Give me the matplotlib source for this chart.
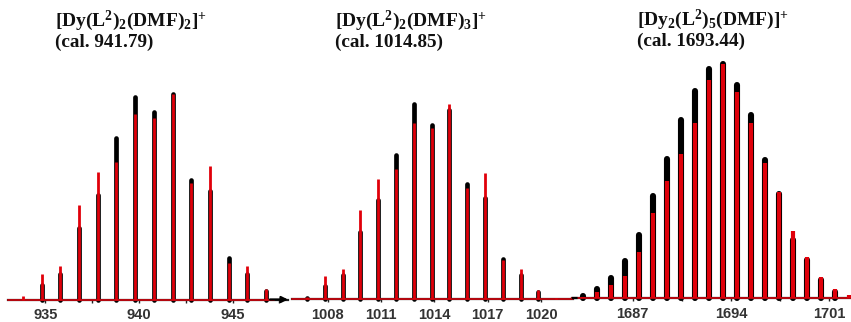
import numpy as np
import matplotlib
matplotlib.use("Agg")
import matplotlib.pyplot as plt
from matplotlib.ticker import FixedLocator

plt.rcParams['mathtext.fontset'] = 'custom'
plt.rcParams['mathtext.rm'] = 'Liberation Serif:bold'
plt.rcParams['mathtext.bf'] = 'Liberation Serif:bold'
plt.rcParams['mathtext.it'] = 'Liberation Serif:bold'

# isotope patterns: experimental (black) vs simulated (red), normalised
p1_mz = [933.79, 934.79, 935.79, 936.79, 937.79, 938.79, 939.79,
         940.79, 941.79, 942.79, 943.79, 944.79, 945.79, 946.79]
p1_exp = [0.0, 0.073, 0.126, 0.349, 0.51, 0.786, 0.988,
          0.915, 1.0, 0.583, 0.53, 0.203, 0.122, 0.04]
p1_sim = [0.016, 0.122, 0.162, 0.462, 0.62, 0.669, 0.903,
          0.883, 1.0, 0.567, 0.651, 0.178, 0.162, 0.049]

p2_mz = [1006.85, 1007.85, 1008.85, 1009.85, 1010.85, 1011.85, 1012.85, 1013.85,
         1014.85, 1015.85, 1016.85, 1017.85, 1018.85, 1019.85, 1020.85]
p2_exp = [0.005, 0.068, 0.125, 0.347, 0.51, 0.74, 1.0, 0.894,
          0.97, 0.591, 0.518, 0.207, 0.125, 0.039, 0.0]
p2_sim = [0.01, 0.12, 0.155, 0.458, 0.615, 0.667, 0.903, 0.877,
          1.0, 0.569, 0.646, 0.2, 0.155, 0.048, 0.008]

p3_mz = [1683.44, 1684.44, 1685.44, 1686.44, 1687.44, 1688.44, 1689.44,
         1690.44, 1691.44, 1692.44, 1693.44, 1694.44, 1695.44, 1696.44,
         1697.44, 1698.44, 1699.44, 1700.44, 1701.44, 1702.44]
p3_exp = [0.01, 0.04, 0.088, 0.161, 0.27, 0.437, 0.595, 0.762, 0.886, 0.979,
          1.0, 0.912, 0.783, 0.591, 0.445, 0.249, 0.164, 0.078, 0.028, 0.0]
p3_sim = [0.005, 0.028, 0.057, 0.095, 0.199, 0.363, 0.50, 0.615, 0.748, 0.933,
          1.0, 0.883, 0.748, 0.577, 0.456, 0.289, 0.178, 0.092, 0.04, 0.014]

p1_ticks = [935, 940, 945]
p1_minor = [937.5, 942.5, 947.5]
p2_ticks = [1008, 1011, 1014, 1017, 1020]
p2_minor = []
p3_ticks = [1687, 1694, 1701]
p3_minor = [1690.5, 1697.5]

titles = [r'$\mathrm{[Dy(L^{2})_{2}(DMF)_{2}]^{+}}$',
          r'$\mathrm{[Dy(L^{2})_{2}(DMF)_{3}]^{+}}$',
          r'$\mathrm{[Dy_{2}(L^{2})_{5}(DMF)]^{+}}$']
cal_labels = ['(cal. 941.79)', '(cal. 1014.85)', '(cal. 1693.44)']

W, H = 851, 322
RED = '#e0000a'

fig = plt.figure(figsize=(W / 100, H / 100), dpi=100)

# panel geometry in pixels: left, right, baseline, top of tallest peak
panels = [
    dict(mz=p1_mz, exp=p1_exp, sim=p1_sim, ticks=p1_ticks, minor=p1_minor,
         px=(8, 288, 299.5, 94.3), xlim=(933.0, 947.96), lw=(3.4, 2.0),
         title_xy=(55, 26), red_end=947.2, arrow=True, dashes=False),
    dict(mz=p2_mz, exp=p2_exp, sim=p2_sim, ticks=p2_ticks, minor=p2_minor,
         px=(292, 573, 299.3, 104.3), xlim=(1006.0, 1021.8), lw=(3.4, 2.0),
         title_xy=(335, 26), red_end=None, arrow=False, dashes=False),
    dict(mz=p3_mz, exp=p3_exp, sim=p3_sim, ticks=p3_ticks, minor=p3_minor,
         px=(572, 851, 298.3, 64.3), xlim=(1682.68, 1702.55), lw=(4.4, 3.0),
         title_xy=(637, 25), red_end=None, arrow=False, dashes=True),
]

for i, p in enumerate(panels):
    x0, x1, yb, yt = p['px']
    ax = fig.add_axes([x0 / W, (H - yb) / H, (x1 - x0) / W, (yb - yt) / H])
    ax.set_xlim(*p['xlim'])
    ax.set_ylim(0, 1)
    ax.patch.set_alpha(0)

    lw_exp, lw_sim = p['lw']
    ax.vlines(p['mz'], 0, p['exp'], colors='black', lw=lw_exp,
              capstyle='round', clip_on=False, zorder=2)
    ax.vlines(p['mz'], 0, p['sim'], colors=RED, lw=lw_sim,
              capstyle='butt', clip_on=False, zorder=3)

    # baseline
    red_end = p['red_end'] if p['red_end'] else p['xlim'][1]
    ax.plot([p['xlim'][0], red_end], [0, 0], color=RED, lw=1.1,
            clip_on=False, zorder=4)
    if p['arrow']:
        ax.annotate('', xy=(p['xlim'][1], 0), xytext=(red_end - 0.2, 0),
                    arrowprops=dict(arrowstyle='-|>', color='black', lw=1.6,
                                    mutation_scale=9, shrinkA=0, shrinkB=0),
                    annotation_clip=False, zorder=5)
    if p['dashes']:
        ax.plot([0.0, 0.035], [0, 0], transform=ax.transAxes, color='black',
                lw=1.6, ls=(0, (2.5, 2.5)), clip_on=False, zorder=5)

    for s in ['top', 'left', 'right']:
        ax.spines[s].set_visible(False)
    ax.spines['bottom'].set_linewidth(1.6)
    ax.spines['bottom'].set_color('#202020')

    ax.set_yticks([])
    ax.xaxis.set_major_locator(FixedLocator(p['ticks']))
    ax.xaxis.set_minor_locator(FixedLocator(p['minor']))
    ax.set_xticklabels([str(t) for t in p['ticks']],
                       fontfamily='Liberation Sans', fontweight='bold',
                       fontsize=10.5, color='#333333')
    ax.tick_params(axis='x', which='both', direction='out', length=2.5,
                   width=1.0, pad=3.5, colors='#202020', labelcolor='#333333')

    tx, ty = p['title_xy']
    fig.text(tx / W, 1 - ty / H, titles[i], fontsize=14, color='#111111',
             ha='left', va='baseline')
    fig.text(tx / W, 1 - (ty + 21) / H, cal_labels[i],
             fontfamily='Liberation Serif', fontweight='bold', fontsize=13.8,
             color='#111111', ha='left', va='baseline')

fig.savefig('out.png', dpi=100)
